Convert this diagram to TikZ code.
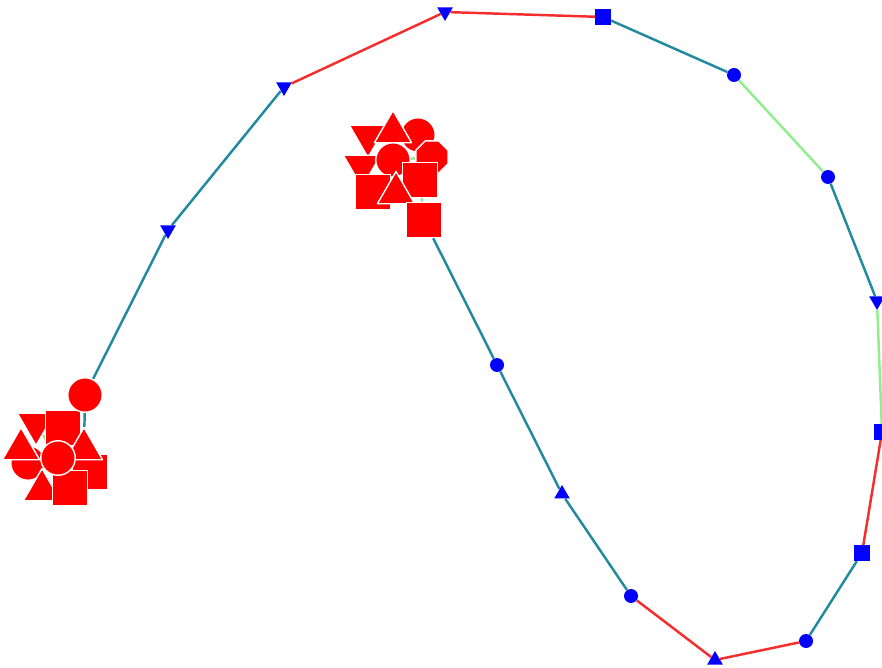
\documentclass[tikz,border=0pt]{standalone}
\usetikzlibrary{shapes.geometric}
\pgfdeclarelayer{edges}
\pgfsetlayers{edges,main}
\definecolor{edgeteal}{RGB}{32,138,158}
\definecolor{edgegreen}{RGB}{144,238,144}
\definecolor{edgered}{RGB}{245,45,45}
\begin{document}
\begin{tikzpicture}[x=0.02cm, y=-0.02cm, line join=round, line cap=round,
	bnode/.style={fill=blue, draw=none, inner sep=0pt},
	bdot/.style={bnode, circle, minimum size=0.28cm},
	bbox/.style={bnode, rectangle, minimum size=0.31cm},
	bup/.style={bnode, regular polygon, regular polygon sides=3, minimum size=0.36cm},
	bdown/.style={bup, shape border rotate=180},
	rnode/.style={fill=red, draw=white, line width=0.8pt, inner sep=0pt},
	rdot/.style={rnode, circle, minimum size=0.69cm},
	rbox/.style={rnode, rectangle, minimum size=0.70cm},
	rup/.style={rnode, regular polygon, regular polygon sides=3, minimum size=0.86cm},
	rdown/.style={rup, shape border rotate=180},
	roct/.style={rnode, regular polygon, regular polygon sides=8, minimum size=0.70cm},
	link/.style={line width=1.4pt}]
	\clip (0,0) rectangle (882,668);
	% cluster left
	\foreach \n/\s/\x/\y in {p1/rdot/28/463, p2/rdown/36/424, p3/rbox/63/428, p4/rup/21/449,
		p5/rup/42/490, p6/rbox/90/472, p7/rbox/70/488, p8/rup/84/449, p9/rdot/58/458, p10/rdot/85/395}
		\node[\s] (\n) at (\x,\y) {};
	% cluster middle
	\foreach \n/\s/\x/\y in {q1/rdot/418/135, q2/rdown/368/136, q3/rup/393/132, q4/roct/432/157,
		q5/rdown/362/166, q6/rdot/393/160, q7/rbox/420/180, q8/rbox/373/192, q9/rup/396/193, q10/rbox/424/220}
		\node[\s] (\n) at (\x,\y) {};
	% chain
	\foreach \n/\s/\x/\y in {b1/bdown/168/230, b2/bdown/284/87, b3/bdown/445/12, b4/bbox/603/17,
		b5/bdot/734/75, b6/bdot/828/177, b7/bdown/877/301, b8/bbox/882/432, b9/bbox/862/553,
		b10/bdot/806/641, b11/bup/715/660, b12/bdot/631/596, b13/bup/562/494, b14/bdot/497/365}
		\node[\s] (\n) at (\x,\y) {};
	\begin{pgfonlayer}{edges}
		\foreach \a/\b/\c in {p10/b1/edgeteal, b1/b2/edgeteal, b2/b3/edgered, b3/b4/edgered,
			b4/b5/edgeteal, b5/b6/edgegreen, b6/b7/edgeteal, b7/b8/edgegreen, b8/b9/edgered,
			b9/b10/edgeteal, b10/b11/edgered, b11/b12/edgered, b12/b13/edgeteal, b13/b14/edgeteal,
			b14/q10/edgeteal, p10/p3/edgeteal, p10/p8/edgeteal, p2/p9/edgegreen, p4/p9/edgegreen,
			q5/q6/edgeteal, q6/q4/edgegreen, q7/q10/edgegreen, q8/q9/edgegreen}
			\draw[link, \c] (\a)--(\b);
	\end{pgfonlayer}
\end{tikzpicture}
\end{document}
